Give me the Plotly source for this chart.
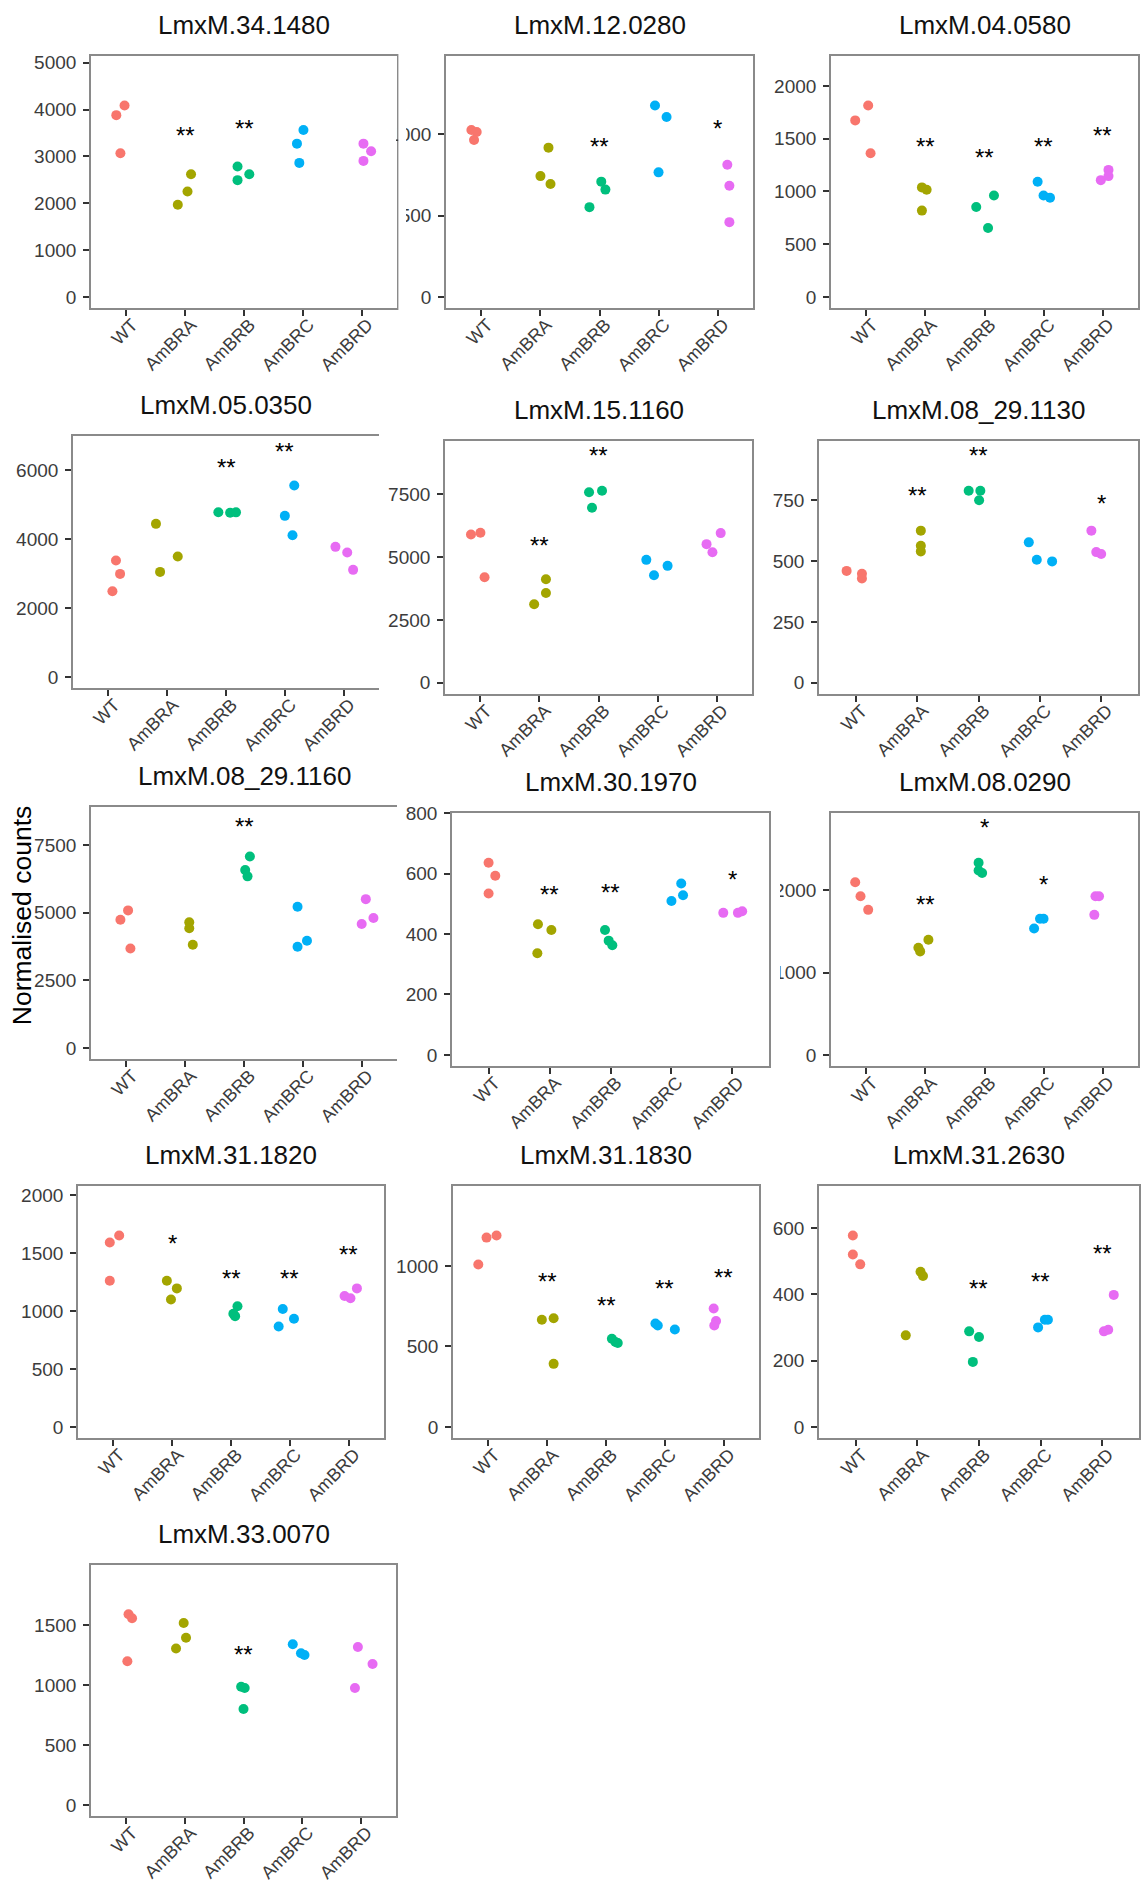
import plotly.graph_objects as go

# ---------------------------------------------------------------------------
# Normalised read counts for 13 genes across WT and four AmBR lines
# (three replicates per strain).  Jitter offsets are horizontal positions in
# category units; significance marks sit at the heights given in *_sig_y.
# ---------------------------------------------------------------------------
strains = ["WT", "AmBRA", "AmBRB", "AmBRC", "AmBRD"]
strain_colours = ["#F8766D", "#A3A500", "#00BF7D", "#00B0F6", "#E76BF3"]

genes = ["LmxM.34.1480", "LmxM.12.0280", "LmxM.04.0580",
         "LmxM.05.0350", "LmxM.15.1160", "LmxM.08_29.1130",
         "LmxM.08_29.1160", "LmxM.30.1970", "LmxM.08.0290",
         "LmxM.31.1820", "LmxM.31.1830", "LmxM.31.2630",
         "LmxM.33.0070"]

# LmxM.34.1480
counts_34_1480 = [[3881, 4086, 3067], [1969, 2252, 2620], [2783, 2493, 2620],
                  [3272, 3562, 2861], [3272, 3109, 2904]]
jitter_34_1480 = [[-0.17, -0.03, -0.10], [-0.125, 0.04, 0.10], [-0.11, -0.11, 0.09],
                  [-0.10, 0.01, -0.06], [0.03, 0.16, 0.03]]
sig_34_1480 = ["", "**", "**", "", ""]
sig_y_34_1480 = [None, 3300, 3442, None, None]
yticks_34_1480 = [0, 1000, 2000, 3000, 4000, 5000]

# LmxM.12.0280
counts_12_0280 = [[1026, 1014, 965], [918, 743, 694], [552, 709, 660],
                  [1177, 1106, 766], [813, 684, 460]]
jitter_12_0280 = [[-0.17, -0.08, -0.125], [0.136, 0.0, 0.17], [-0.17, 0.03, 0.10],
                  [-0.06, 0.136, 0.0], [0.165, 0.2, 0.2]]
sig_12_0280 = ["", "", "**", "", "*"]
sig_y_12_0280 = [None, None, 882, None, 990]
yticks_12_0280 = [0, 500, 1000]

# LmxM.04.0580
counts_04_0580 = [[1673, 1814, 1362], [1038, 1016, 818], [852, 962, 654],
                  [1091, 962, 940], [1107, 1204, 1145]]
jitter_04_0580 = [[-0.19, 0.03, 0.07], [-0.06, 0.02, -0.06], [-0.14, 0.16, 0.06],
                  [-0.10, 0.0, 0.11], [-0.03, 0.10, 0.10]]
sig_04_0580 = ["", "**", "**", "**", "**"]
sig_y_04_0580 = [None, 1362, 1252, 1362, 1465]
yticks_04_0580 = [0, 500, 1000, 1500, 2000]

# LmxM.05.0350
counts_05_0350 = [[2487, 3378, 2990], [4442, 3048, 3494], [4780, 4765, 4775],
                  [4674, 5555, 4113], [3774, 3610, 3107]]
jitter_05_0350 = [[0.07, 0.13, 0.20], [-0.19, -0.12, 0.18], [-0.13, 0.07, 0.17],
                  [0.0, 0.16, 0.13], [-0.14, 0.06, 0.16]]
sig_05_0350 = ["", "", "**", "**", ""]
sig_y_05_0350 = [None, None, 5865, 6349, None]
yticks_05_0350 = [0, 2000, 4000, 6000]

# LmxM.15.1160
counts_15_1160 = [[5894, 5960, 4195], [3120, 3571, 4115], [7567, 7633, 6956],
                  [4885, 4274, 4646], [5509, 5190, 5947]]
jitter_15_1160 = [[-0.16, 0.0, 0.07], [-0.09, 0.11, 0.11], [-0.16, 0.06, -0.11],
                  [-0.19, -0.06, 0.17], [-0.17, -0.07, 0.07]]
sig_15_1160 = ["", "**", "**", "", ""]
sig_y_15_1160 = [None, 5190, 8761, None, None]
yticks_15_1160 = [0, 2500, 5000, 7500]

# LmxM.08_29.1130
counts_08_29_1130 = [[459, 447, 428], [624, 562, 539], [788, 788, 749],
                     [576, 505, 498], [624, 536, 528]]
jitter_08_29_1130 = [[-0.15, 0.10, 0.10], [0.06, 0.06, 0.06], [-0.16, 0.03, 0.01],
                     [-0.18, -0.05, 0.20], [-0.16, -0.08, 0.0]]
sig_08_29_1130 = ["", "**", "**", "", "*"]
sig_y_08_29_1130 = [None, 740, 905, None, 708]
yticks_08_29_1130 = [0, 250, 500, 750]

# LmxM.08_29.1160
counts_08_29_1160 = [[4747, 5090, 3683], [4650, 4430, 3817], [7084, 6583, 6350],
                     [5224, 3744, 3964], [5506, 4588, 4809]]
jitter_08_29_1160 = [[-0.10, 0.03, 0.07], [0.07, 0.07, 0.13], [0.10, 0.02, 0.06],
                     [-0.09, -0.09, 0.07], [0.07, 0.0, 0.20]]
sig_08_29_1160 = ["", "", "**", "", ""]
sig_y_08_29_1160 = [None, None, 7929, None, None]
yticks_08_29_1160 = [0, 2500, 5000, 7500]

# LmxM.30.1970
counts_30_1970 = [[636, 593, 534], [432, 413, 336], [413, 378, 363],
                  [509, 567, 528], [470, 470, 475]]
jitter_30_1970 = [[0.0, 0.11, 0.0], [-0.19, 0.03, -0.2], [-0.09, -0.03, 0.03],
                  [0.0, 0.16, 0.19], [-0.15, 0.09, 0.16]]
sig_30_1970 = ["", "**", "**", "", "*"]
sig_y_30_1970 = [None, 509, 515, None, 556]
yticks_30_1970 = [0, 200, 400, 600, 800]

# LmxM.08.0290
counts_08_0290 = [[2097, 1927, 1762], [1301, 1257, 1398], [2335, 2240, 2210],
                  [1535, 1653, 1653], [1701, 1927, 1927]]
jitter_08_0290 = [[-0.19, -0.10, 0.03], [-0.12, -0.09, 0.05], [-0.10, -0.10, -0.04],
                  [-0.16, -0.06, 0.0], [-0.14, -0.12, -0.06]]
sig_08_0290 = ["", "**", "*", "*", ""]
sig_y_08_0290 = [None, 1741, 2679, 1980, None]
yticks_08_0290 = [0, 1000, 2000]

# LmxM.31.1820
counts_31_1820 = [[1589, 1650, 1260], [1260, 1194, 1098], [1040, 975, 955],
                  [1016, 933, 865], [1129, 1109, 1194]]
jitter_31_1820 = [[-0.06, 0.10, -0.06], [-0.09, 0.08, -0.02], [0.11, 0.04, 0.07],
                  [-0.12, 0.07, -0.19], [-0.07, 0.03, 0.14]]
sig_31_1820 = ["", "*", "**", "**", "**"]
sig_y_31_1820 = [None, 1518, 1223, 1223, 1427]
yticks_31_1820 = [0, 500, 1000, 1500, 2000]

# LmxM.31.1830
counts_31_1830 = [[1010, 1177, 1190], [666, 676, 392], [548, 528, 522],
                  [643, 630, 606], [736, 658, 631]]
jitter_31_1830 = [[-0.17, -0.03, 0.14], [-0.09, 0.11, 0.11], [0.10, 0.16, 0.2],
                  [-0.16, -0.12, 0.17], [-0.17, -0.13, -0.16]]
sig_31_1830 = ["", "**", "**", "**", "**"]
sig_y_31_1830 = [None, 858, 711, 814, 885]
yticks_31_1830 = [0, 500, 1000]

# LmxM.31.2630
counts_31_2630 = [[577, 520, 490], [276, 468, 455], [288, 271, 196],
                  [300, 323, 323], [288, 293, 398]]
jitter_31_2630 = [[-0.05, -0.05, 0.07], [-0.19, 0.05, 0.09], [-0.16, 0.0, -0.10],
                  [-0.04, 0.07, 0.12], [0.03, 0.10, 0.19]]
sig_31_2630 = ["", "", "**", "**", "**"]
sig_y_31_2630 = [None, None, 395, 416, 503]
yticks_31_2630 = [0, 200, 400, 600]

# LmxM.33.0070
counts_33_0070 = [[1198, 1589, 1556], [1304, 1516, 1394], [985, 975, 800],
                  [1340, 1265, 1250], [1317, 1174, 974]]
jitter_33_0070 = [[0.02, 0.04, 0.10], [-0.15, -0.02, 0.02], [-0.04, 0.02, 0.0],
                  [-0.16, -0.02, 0.04], [-0.05, 0.2, -0.1]]
sig_33_0070 = ["", "", "**", "", ""]
sig_y_33_0070 = [None, None, 1198, None, None]
yticks_33_0070 = [0, 500, 1000, 1500]

panels = [
    (counts_34_1480, jitter_34_1480, sig_34_1480, sig_y_34_1480, yticks_34_1480),
    (counts_12_0280, jitter_12_0280, sig_12_0280, sig_y_12_0280, yticks_12_0280),
    (counts_04_0580, jitter_04_0580, sig_04_0580, sig_y_04_0580, yticks_04_0580),
    (counts_05_0350, jitter_05_0350, sig_05_0350, sig_y_05_0350, yticks_05_0350),
    (counts_15_1160, jitter_15_1160, sig_15_1160, sig_y_15_1160, yticks_15_1160),
    (counts_08_29_1130, jitter_08_29_1130, sig_08_29_1130, sig_y_08_29_1130, yticks_08_29_1130),
    (counts_08_29_1160, jitter_08_29_1160, sig_08_29_1160, sig_y_08_29_1160, yticks_08_29_1160),
    (counts_30_1970, jitter_30_1970, sig_30_1970, sig_y_30_1970, yticks_30_1970),
    (counts_08_0290, jitter_08_0290, sig_08_0290, sig_y_08_0290, yticks_08_0290),
    (counts_31_1820, jitter_31_1820, sig_31_1820, sig_y_31_1820, yticks_31_1820),
    (counts_31_1830, jitter_31_1830, sig_31_1830, sig_y_31_1830, yticks_31_1830),
    (counts_31_2630, jitter_31_2630, sig_31_2630, sig_y_31_2630, yticks_31_2630),
    (counts_33_0070, jitter_33_0070, sig_33_0070, sig_y_33_0070, yticks_33_0070),
]

# ---------------------------------------------------------------------------
# Page layout (pixels): panel boxes as (left, right, top, bottom)
# ---------------------------------------------------------------------------
W, H = 1143, 1889
boxes = [
    (91, 397, 46, 300), (446, 753, 46, 300), (831, 1138, 46, 300),
    (73, 379, 428, 682), (445, 752, 433, 688), (819, 1138, 433, 688),
    (91, 397, 801, 1055), (452, 769, 807, 1062), (831, 1138, 807, 1062),
    (78, 384, 1182, 1436), (453, 759, 1182, 1436), (819, 1139, 1182, 1436),
    (91, 396, 1563, 1816),
]
# panels whose right border is hidden under the neighbouring panel
no_right_border = {4, 7}

FONT = "Liberation Sans, Arial, sans-serif"
BORDER = "#8a8a8a"
TICK = "#333333"
TICKTEXT = "#3c3c3c"

fig = go.Figure()
layout = dict(
    width=W, height=H,
    margin=dict(l=0, r=0, t=0, b=0),
    paper_bgcolor="white", plot_bgcolor="white",
    showlegend=False,
    font=dict(family=FONT),
)
annotations = []
shapes = []

for i, ((counts, jitter, sig, sig_y, yticks), gene, box) in enumerate(
        zip(panels, genes, boxes), start=1):
    xa = "x" if i == 1 else f"x{i}"
    ya = "y" if i == 1 else f"y{i}"
    x0, x1, y0, y1 = box

    for g, strain in enumerate(strains):
        fig.add_trace(go.Scatter(
            x=[g + 1 + j for j in jitter[g]],
            y=counts[g],
            mode="markers",
            marker=dict(color=strain_colours[g], size=10, line=dict(width=0)),
            xaxis=xa, yaxis=ya, name=strain, hoverinfo="skip",
        ))

    # y extent follows the label heights (1.2 x group maximum) plus 5% padding
    top = 1.2 * max(max(c) for c in counts)
    y_range = [-0.05 * top, 1.05 * top]

    layout["xaxis" if i == 1 else f"xaxis{i}"] = dict(
        domain=[x0 / W, x1 / W], anchor=ya,
        range=[0.4, 5.6], tickvals=[1, 2, 3, 4, 5], ticktext=strains,
        tickangle=-45, ticks="outside", ticklen=6, tickwidth=1.5,
        tickcolor=TICK, showline=True, linecolor=BORDER, linewidth=1.6,
        mirror=True, showgrid=False, zeroline=False, fixedrange=True,
        tickfont=dict(size=18, color=TICKTEXT, family=FONT),
        ticklabelstandoff=-9, ticklabelshift=6,
    )
    layout["yaxis" if i == 1 else f"yaxis{i}"] = dict(
        domain=[1 - y1 / H, 1 - y0 / H], anchor=xa,
        range=y_range, tickvals=yticks, ticktext=[str(v) for v in yticks],
        ticks="outside", ticklen=6, tickwidth=1.5, tickcolor=TICK,
        showline=True, linecolor=BORDER, linewidth=1.6,
        mirror=(i not in no_right_border), showgrid=False, zeroline=False,
        fixedrange=True,
        tickfont=dict(size=19, color=TICKTEXT, family=FONT),
        ticklabelstandoff=3,
    )

    # panel title
    annotations.append(dict(
        text=gene, xref="paper", yref="paper",
        x=(x0 + x1) / 2 / W, y=1 - (y0 - 31) / H,
        xanchor="center", yanchor="middle", showarrow=False,
        font=dict(size=26, color="#111111", family=FONT),
    ))

    # significance marks
    for g, (mark, level) in enumerate(zip(sig, sig_y)):
        if mark:
            annotations.append(dict(
                text=mark, xref=xa, yref=ya, x=g + 1, y=level,
                xanchor="center", yanchor="middle", showarrow=False,
                yshift=7,
                font=dict(size=24, color="black", family=FONT),
            ))

# shared y-axis title
annotations.append(dict(
    text="Normalised counts", xref="paper", yref="paper",
    x=22 / W, y=1 - 911 / H, xanchor="center", yanchor="middle",
    textangle=-90, showarrow=False,
    font=dict(size=26.5, color="black", family=FONT),
))

# neighbouring panels overlap the tick labels of LmxM.12.0280 and LmxM.08.0290
for (cx0, cx1, cy0, cy1) in [(380, 396, 110, 140), (380, 396, 192, 222),
                             (398.4, 406, 40, 312), (771, 780, 800, 1075)]:
    shapes.append(dict(
        type="rect", xref="paper", yref="paper", layer="above",
        x0=cx0 / W, x1=cx1 / W, y0=1 - cy1 / H, y1=1 - cy0 / H,
        fillcolor="white", line=dict(width=0),
    ))

layout["annotations"] = annotations
layout["shapes"] = shapes
fig.update_layout(**layout)

fig.write_html("out.html")
